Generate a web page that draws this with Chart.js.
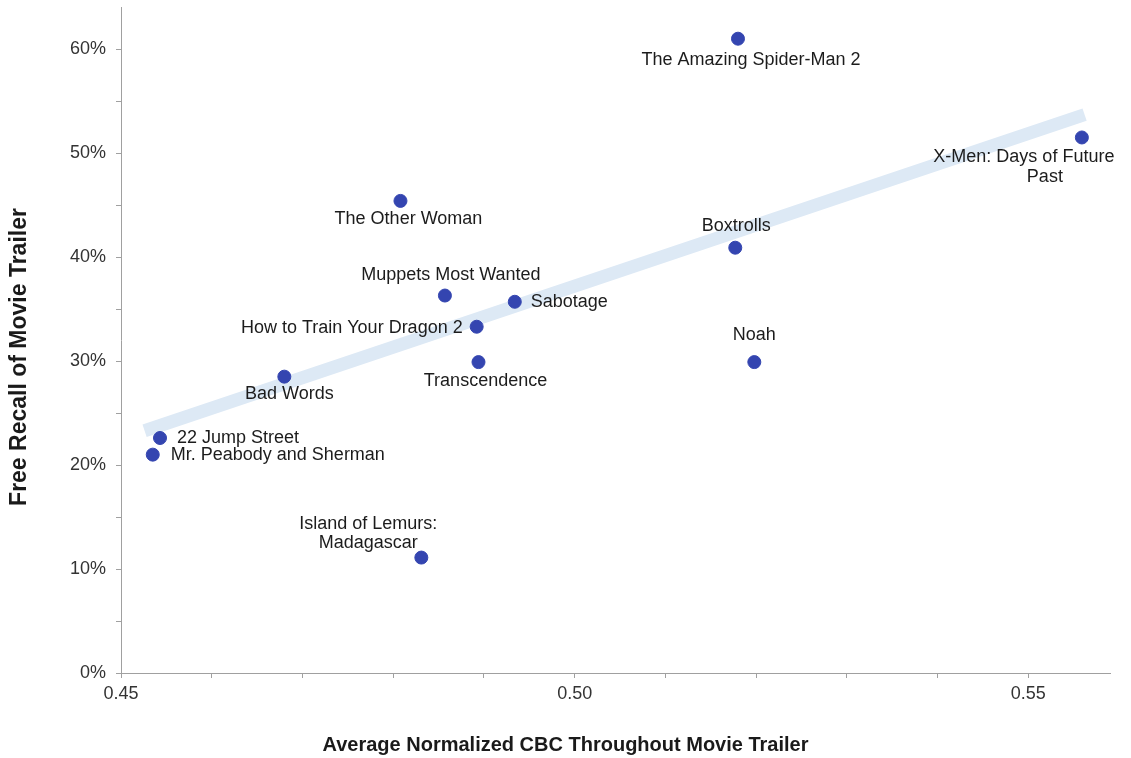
<!DOCTYPE html>
<html>
<head>
<meta charset="utf-8">
<script src="https://cdn.jsdelivr.net/npm/chart.js@4"></script>
<style>
html,body{margin:0;padding:0;background:#fff;}
#wrap{width:1131px;height:758px;position:relative;}
</style>
</head>
<body>
<div id="wrap"><canvas id="c" width="1131" height="758"></canvas></div>
<script>
// ---- data ----
const movies = [
  "The Amazing Spider-Man 2",
  "X-Men: Days of Future\nPast",
  "The Other Woman",
  "Boxtrolls",
  "Muppets Most Wanted",
  "Sabotage",
  "How to Train Your Dragon 2",
  "Transcendence",
  "Noah",
  "Bad Words",
  "22 Jump Street",
  "Mr. Peabody and Sherman",
  "Island of Lemurs:\nMadagascar"
];
const cbcValues = [0.5180, 0.5559, 0.4808, 0.5177, 0.4857, 0.4934, 0.4892, 0.4894, 0.5198, 0.4680, 0.4543, 0.4535, 0.4831];
const recallValues = [61.0, 51.5, 45.4, 40.9, 36.3, 35.7, 33.3, 29.9, 29.9, 28.5, 22.6, 21.0, 11.1];
const trendX = [0.4526, 0.5562];
const trendY = [23.3, 53.7];
const xTickLabels = ["0.45", "0.50", "0.55"];
const yTickLabels = ["0%", "10%", "20%", "30%", "40%", "50%", "60%"];
const xTitle = "Average Normalized CBC Throughout Movie Trailer";
const yTitle = "Free Recall of Movie Trailer";

// ---- label layout (offsets from point, in px) ----
const labelLayout = [
  {align:"center", off:[[13,21]]},
  {align:"center", off:[[-58,20],[-37,40]]},
  {align:"center", off:[[8,18]]},
  {align:"center", off:[[1,-22]]},
  {align:"center", off:[[6,-21]]},
  {align:"left",   off:[[16,0]]},
  {align:"right",  off:[[-14,1]]},
  {align:"center", off:[[7,19]]},
  {align:"center", off:[[0,-27]]},
  {align:"center", off:[[5,17]]},
  {align:"left",   off:[[17,0]]},
  {align:"left",   off:[[18,0]]},
  {align:"center", off:[[-53,-34],[-53,-15]]}
];

const FONT = "'Liberation Sans', Arial, sans-serif";

const labelPlugin = {
  id: "pointLabels",
  afterDatasetsDraw(chart) {
    const meta = chart.getDatasetMeta(1);
    const ctx = chart.ctx;
    ctx.save();
    ctx.font = "18px " + FONT;
    ctx.fillStyle = "#1c1c1c";
    ctx.textBaseline = "middle";
    meta.data.forEach((el, i) => {
      const lines = movies[i].split("\n");
      const lay = labelLayout[i];
      ctx.textAlign = lay.align;
      lines.forEach((ln, j) => {
        const o = lay.off[j];
        ctx.fillText(ln, el.x + o[0], el.y + o[1]);
      });
    });
    ctx.restore();
  }
};

const titlePlugin = {
  id: "axisTitles",
  afterDraw(chart) {
    const ctx = chart.ctx;
    ctx.save();
    ctx.fillStyle = "#1a1a1a";
    ctx.textAlign = "center";
    ctx.textBaseline = "middle";
    ctx.font = "bold 20px " + FONT;
    ctx.fillText(xTitle, chart.width / 2, 745);
    ctx.translate(20, 357);
    ctx.rotate(-Math.PI / 2);
    ctx.font = "bold 23px " + FONT;
    ctx.fillText(yTitle, 0, 0);
    ctx.restore();
  }
};

new Chart(document.getElementById("c"), {
  type: "scatter",
  data: {
    datasets: [
      {
        type: "line",
        data: trendX.map((x, i) => ({x: x, y: trendY[i]})),
        borderColor: "#dde9f5",
        borderWidth: 13,
        borderCapStyle: "butt",
        pointRadius: 0,
        fill: false,
        order: 2
      },
      {
        data: cbcValues.map((x, i) => ({x: x, y: recallValues[i]})),
        backgroundColor: "#3445b0",
        borderColor: "#3445b0",
        pointRadius: 6.5,
        pointHoverRadius: 6.5,
        order: 1
      }
    ]
  },
  options: {
    responsive: false,
    animation: false,
    layout: {padding: {top: 7, right: 21, left: 0, bottom: 0}},
    plugins: {legend: {display: false}, tooltip: {enabled: false}},
    scales: {
      x: {
        type: "linear",
        min: 0.45,
        max: 0.559,
        afterBuildTicks(scale) {
          scale.ticks = scale.ticks.filter(t => Math.abs(t.value * 100 - Math.round(t.value * 100)) < 1e-6);
        },
        afterFit(scale) { scale.height = 85; scale.paddingLeft = 0; scale.paddingRight = 0; },
        ticks: {
          stepSize: 0.01,
          autoSkip: false,
          maxRotation: 0,
          padding: 5,
          color: "#333",
          font: {family: FONT, size: 18},
          callback(v) {
            const k = Math.round(v * 100);
            if (k % 5 !== 0) return "";
            const s = (k / 100).toFixed(2);
            return xTickLabels.includes(s) ? s : "";
          }
        },
        grid: {drawOnChartArea: false, drawTicks: true, tickLength: 5, color: "#a0a0a0"},
        border: {color: "#a0a0a0", width: 1},
        title: {display: false}
      },
      y: {
        type: "linear",
        min: 0,
        max: 64,
        afterBuildTicks(scale) {
          scale.ticks = scale.ticks.filter(t => Math.abs(t.value % 5) < 1e-6);
        },
        afterFit(scale) { scale.width = 121; scale.paddingTop = 0; scale.paddingBottom = 0; },
        ticks: {
          stepSize: 5,
          autoSkip: false,
          padding: 10,
          color: "#333",
          font: {family: FONT, size: 18},
          callback(v) {
            const s = Math.round(v) + "%";
            return (Math.round(v) % 10 === 0 && yTickLabels.includes(s)) ? s : "";
          }
        },
        grid: {drawOnChartArea: false, drawTicks: true, tickLength: 5, color: "#a0a0a0"},
        border: {color: "#a0a0a0", width: 1},
        title: {display: false}
      }
    }
  },
  plugins: [labelPlugin, titlePlugin]
});
</script>
</body>
</html>
